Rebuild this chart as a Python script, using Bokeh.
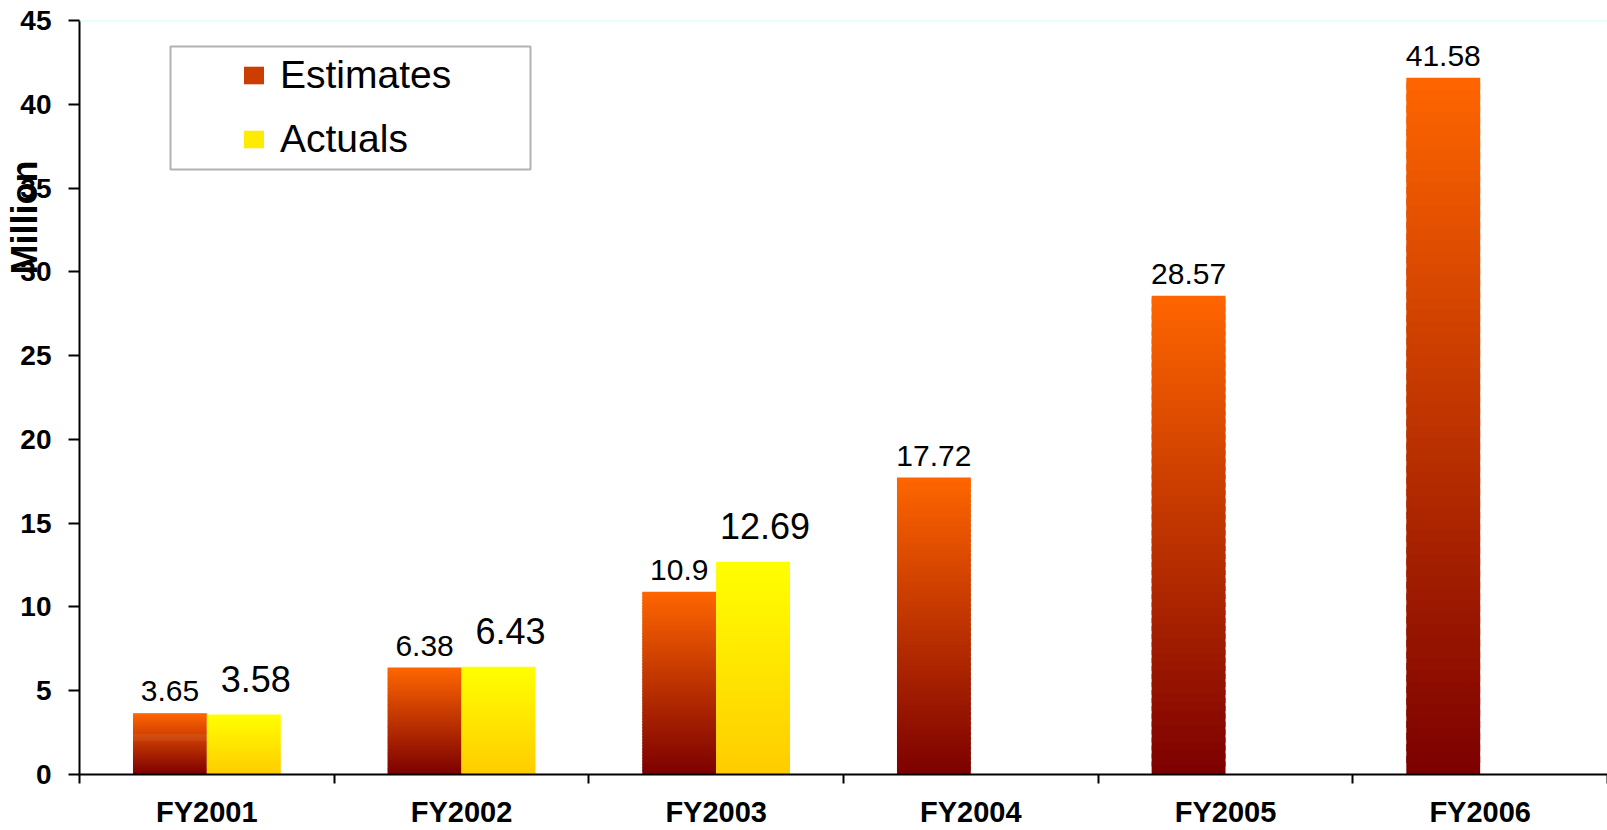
import numpy as np
from bokeh.plotting import figure
from bokeh.models import (Range1d, FixedTicker, LabelSet, ColumnDataSource,
                          Legend, LegendItem, BoxAnnotation, Span)
from bokeh.core.properties import value
from bokeh.embed import file_html
from bokeh.resources import INLINE

# ---- data ----
categories = ["FY2001", "FY2002", "FY2003", "FY2004", "FY2005", "FY2006"]
estimates = [3.65, 6.38, 10.9, 17.72, 28.57, 41.58]
actuals = [3.58, 6.43, 12.69, None, None, None]
y_ticks = [0, 5, 10, 15, 20, 25, 30, 35, 40, 45]
series_names = ["Estimates", "Actuals"]
y_title = "Million"

# ---- style ----
FONT = "Liberation Sans"
N_STRIPS = 60
BAR_W = 0.29
DODGE = 0.145
EST_TOP, EST_BOTTOM = "#ff6600", "#7c0000"
ACT_TOP, ACT_BOTTOM = "#ffff00", "#ffcc00"
NBSP = "\u00a0"


def mix(c_bottom, c_top, t):
    a = [int(c_bottom[i:i + 2], 16) for i in (1, 3, 5)]
    b = [int(c_top[i:i + 2], 16) for i in (1, 3, 5)]
    return "#%02x%02x%02x" % tuple(int(round(a[k] + (b[k] - a[k]) * t)) for k in range(3))


def gradient_source(centers, vals, c_top, c_bottom):
    d = dict(left=[], right=[], bottom=[], top=[], color=[])
    for xc, v in zip(centers, vals):
        if v is None:
            continue
        for j in range(N_STRIPS):
            d["left"].append(xc - BAR_W / 2)
            d["right"].append(xc + BAR_W / 2)
            d["bottom"].append(v * j / N_STRIPS)
            d["top"].append(min(v, v * (j + 1.6) / N_STRIPS))
            d["color"].append(mix(c_bottom, c_top, (j + 0.5) / N_STRIPS))
    return ColumnDataSource(d)


n = len(categories)
centers = np.arange(n) + 0.5
est_x = centers - DODGE
act_x = centers + DODGE

p = figure(width=1607, height=830, output_backend="svg", toolbar_location=None,
           x_range=Range1d(0, n), y_range=Range1d(0, 45),
           min_border_left=79, min_border_right=0, min_border_top=20, min_border_bottom=50)
p.outline_line_color = None
p.xgrid.grid_line_color = None
p.ygrid.grid_line_color = None
p.background_fill_color = "white"
p.border_fill_color = "white"

est_src = gradient_source(est_x, estimates, EST_TOP, EST_BOTTOM)
act_src = gradient_source(act_x, actuals, ACT_TOP, ACT_BOTTOM)
r_est = p.quad(left="left", right="right", bottom="bottom", top="top", source=est_src,
               fill_color="color", line_color=None)
r_act = p.quad(left="left", right="right", bottom="bottom", top="top", source=act_src,
               fill_color="color", line_color=None)

# value labels
est_lab = ColumnDataSource(dict(x=est_x, y=estimates, t=[f"{v:g}" for v in estimates]))
act_pairs = [(x, v) for x, v in zip(act_x, actuals) if v is not None]
act_lab = ColumnDataSource(dict(x=[a for a, _ in act_pairs], y=[b for _, b in act_pairs],
                                t=[f"{b:g}" for _, b in act_pairs]))
p.add_layout(LabelSet(x="x", y="y", text="t", source=est_lab, text_align="center",
                      text_baseline="alphabetic", y_offset=12, text_font=value(FONT),
                      text_font_size="30px", text_color="black"))
p.add_layout(LabelSet(x="x", y="y", text="t", source=act_lab, text_align="center",
                      text_baseline="alphabetic", y_offset=23, x_offset=12,
                      text_font=value(FONT), text_font_size="36px", text_color="black"))

# top light line
p.add_layout(Span(location=45, dimension="width", line_color="#ccffff", line_width=2))

# axes
xa = p.xaxis[0]
xa.ticker = FixedTicker(ticks=list(centers), minor_ticks=list(range(n + 1)))
xa.major_label_overrides = {float(c): lab for c, lab in zip(centers, categories)}
xa.major_tick_line_color = None
xa.major_tick_out = 0
xa.minor_tick_line_color = "black"
xa.minor_tick_line_width = 2
xa.minor_tick_out = 9
xa.minor_tick_in = 0
xa.axis_line_color = "black"
xa.axis_line_width = 2
xa.major_label_text_font = FONT
xa.major_label_text_font_style = "bold"
xa.major_label_text_font_size = "29px"
xa.major_label_text_color = "black"
xa.major_label_standoff = 12

ya = p.yaxis[0]
ya.ticker = FixedTicker(ticks=y_ticks)
ya.minor_tick_line_color = None
ya.major_tick_line_color = "black"
ya.major_tick_line_width = 2
ya.major_tick_out = 11
ya.major_tick_in = 0
ya.axis_line_color = "black"
ya.axis_line_width = 2
ya.major_label_text_font = FONT
ya.major_label_text_font_style = "bold"
ya.major_label_text_font_size = "28px"
ya.major_label_text_color = "black"
ya.major_label_standoff = 17
# y title sits high and overlaps the tick labels, as in the reference
ya.axis_label = NBSP * 36 + y_title
ya.axis_label_standoff = -28
ya.axis_label_text_font = FONT
ya.axis_label_text_font_style = "bold"
ya.axis_label_text_font_size = "36px"
ya.axis_label_text_color = "black"

# legend
legend = Legend(items=[LegendItem(label=series_names[0], renderers=[r_est], index=int(N_STRIPS * 0.6)),
                       LegendItem(label=series_names[1], renderers=[r_act], index=int(N_STRIPS * 0.6))],
                location=(162, 613), padding=0, margin=0, spacing=20,
                label_height=40, glyph_width=25, glyph_height=22, label_standoff=14,
                label_text_font=FONT, label_text_font_size="39px", label_text_color="black",
                border_line_color=None, background_fill_alpha=0)
p.add_layout(legend, "center")
p.add_layout(BoxAnnotation(left=91, right=451, top=728, bottom=605,
                           left_units="screen", right_units="screen",
                           top_units="screen", bottom_units="screen",
                           fill_color=None, fill_alpha=0, line_color="black", line_width=2))

open("out.html", "w").write(file_html(p, INLINE))
